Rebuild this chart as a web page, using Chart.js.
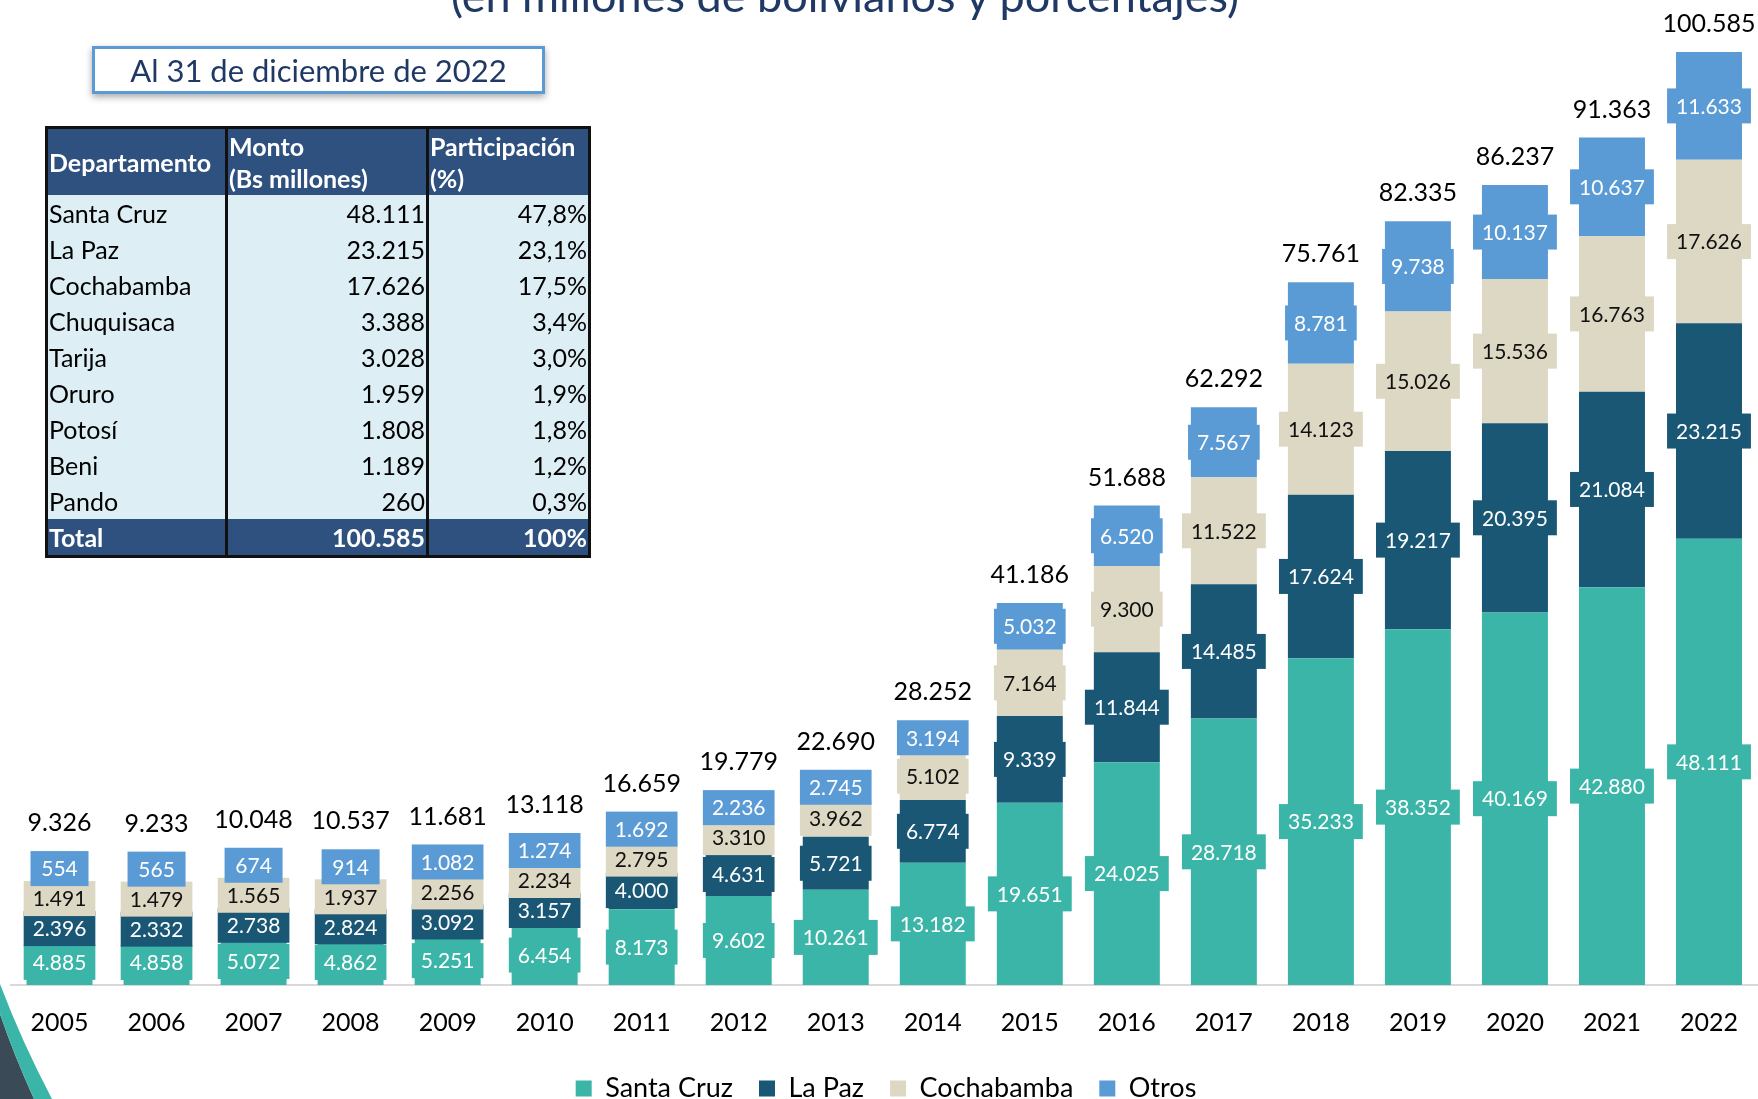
<!DOCTYPE html>
<html>
<head>
<meta charset="utf-8">
<script src="https://cdn.jsdelivr.net/npm/chart.js@4.4.1/dist/chart.umd.min.js"></script>
<style>
    html, body { margin: 0; padding: 0; background: #fff; overflow: hidden; }
    #wrap { position: relative; width: 1758px; height: 1099px; overflow: hidden; font-family: Lato, sans-serif; }
    #box { position: absolute; left: 0; top: 0; width: 1761px; height: 1112px; }
    #title { position: absolute; left: 345px; width: 1000px; top: -27px; text-align: center; font-size: 45px; line-height: 1; color: #1f3864; white-space: nowrap; }
    #fecha { position: absolute; left: 92px; top: 46px; width: 447px; height: 42px; border: 3px solid #5b9bd5; box-shadow: 0 3px 7px rgba(0,0,0,0.35); background: #fff; color: #1f3864; font-size: 31px; line-height: 42px; text-align: center; }
    #tabla { position: absolute; left: 45px; top: 126px; border-collapse: collapse; border: 3px solid #111; }
    #tabla td { padding: 0 1px; font-size: 25px; color: #000; background: #ddeef4; height: 36px; line-height: 36px; white-space: nowrap; border-left: 3px solid #111; border-right: 3px solid #111; }
    #tabla tr.h td { background: #2e5180; color: #fff; font-weight: bold; font-size: 25px; height: 66px; line-height: 32px; vertical-align: middle; }
    #tabla tr.t td { background: #2e5180; color: #fff; font-weight: bold; }
    #tabla td.n { text-align: right; }
    #deco { position: absolute; left: 0; top: 0; }
</style>
</head>
<body>
<div id="wrap">
    <div id="box"><canvas id="chart"></canvas></div>
    <div id="title">(en millones de bolivianos y porcentajes)</div>
    <div id="fecha">Al 31 de diciembre de 2022</div>
    <table id="tabla"></table>
    <svg id="deco" width="60" height="1099">
        <path d="M0,1014 Q14,1055 34,1099 L0,1099 Z" fill="#3a4a57"/>
        <path d="M0,984 Q22,1042 52,1099 L34,1099 Q14,1055 0,1014 Z" fill="#3bb5a8"/>
    </svg>
</div>
<script>
var years = ["2005", "2006", "2007", "2008", "2009", "2010", "2011", "2012", "2013",
    "2014", "2015", "2016", "2017", "2018", "2019", "2020", "2021", "2022"];
var santaCruz = [4885, 4858, 5072, 4862, 5251, 6454, 8173, 9602, 10261, 13182, 19651, 24025, 28718, 35233, 38352, 40169, 42880, 48111];
var laPaz = [2396, 2332, 2738, 2824, 3092, 3157, 4000, 4631, 5721, 6774, 9339, 11844, 14485, 17624, 19217, 20395, 21084, 23215];
var cochabamba = [1491, 1479, 1565, 1937, 2256, 2234, 2795, 3310, 3962, 5102, 7164, 9300, 11522, 14123, 15026, 15536, 16763, 17626];
var otros = [554, 565, 674, 914, 1082, 1274, 1692, 2236, 2745, 3194, 5032, 6520, 7567, 8781, 9738, 10137, 10637, 11633];
var totales = [9326, 9233, 10048, 10537, 11681, 13118, 16659, 19779, 22690, 28252, 41186, 51688, 62292, 75761, 82335, 86237, 91363, 100585];

// tabla 2022
var deptos = ["Santa Cruz", "La Paz", "Cochabamba", "Chuquisaca", "Tarija", "Oruro", "Potosí", "Beni", "Pando"];
var montos = ["48.111", "23.215", "17.626", "3.388", "3.028", "1.959", "1.808", "1.189", "260"];
var partic = ["47,8%", "23,1%", "17,5%", "3,4%", "3,0%", "1,9%", "1,8%", "1,2%", "0,3%"];

var tabla = document.getElementById("tabla");
var html = '<colgroup><col style="width:180px"><col style="width:201px"><col style="width:162px"></colgroup>';
html += '<tr class="h"><td>Departamento</td><td>Monto<br>(Bs millones)</td><td>Participación<br>(%)</td></tr>';
for (var i = 0; i < deptos.length; i++) {
    html += '<tr><td>' + deptos[i] + '</td><td class="n">' + montos[i] + '</td><td class="n">' + partic[i] + '</td></tr>';
}
html += '<tr class="t"><td>Total</td><td class="n">100.585</td><td class="n">100%</td></tr>';
tabla.innerHTML = html;

function fmt(v) {
    return String(v).replace(/\B(?=(\d{3})+(?!\d))/g, ".");
}

var colores = ["#3bb5a8", "#195775", "#ddd8c4", "#5b9bd5"];
var textColores = ["#fff", "#fff", "#111", "#fff"];
var BOX_H = 35, GAP = 30;

// etiquetas con fondo, apiladas hacia arriba si no caben
var boxLabels = {
    id: "boxLabels",
    afterDatasetsDraw: function (chart) {
        var ctx = chart.ctx;
        var base = chart.scales.y.getPixelForValue(0);
        ctx.save();
        ctx.textAlign = "center";
        ctx.textBaseline = "middle";
        for (var i = 0; i < chart.data.labels.length; i++) {
            var limit = base - BOX_H / 2;
            var topEdge = Infinity;
            var x = 0;
            ctx.font = "21px Lato";
            chart.data.datasets.forEach(function (ds, d) {
                var bar = chart.getDatasetMeta(d).data[i];
                x = bar.x;
                var y = Math.min((bar.y + bar.base) / 2, limit);
                limit = y - GAP;
                var txt = fmt(ds.data[i]);
                var w = Math.max(ctx.measureText(txt).width + 18, 58);
                ctx.fillStyle = ds.backgroundColor;
                ctx.fillRect(x - w / 2, y - BOX_H / 2, w, BOX_H);
                ctx.fillStyle = textColores[d];
                ctx.fillText(txt, x, y + 1);
                topEdge = Math.min(topEdge, y - BOX_H / 2, bar.y);
            });
            ctx.font = "25px Lato";
            ctx.fillStyle = "#000";
            ctx.fillText(fmt(totales[i]), x, topEdge - 28);
        }
        ctx.restore();
    }
};

function draw() {
    new Chart(document.getElementById("chart"), {
        type: "bar",
        data: {
            labels: years,
            datasets: [
                { label: "Santa Cruz", data: santaCruz, backgroundColor: colores[0] },
                { label: "La Paz", data: laPaz, backgroundColor: colores[1] },
                { label: "Cochabamba", data: cochabamba, backgroundColor: colores[2] },
                { label: "Otros", data: otros, backgroundColor: colores[3] }
            ]
        },
        options: {
            responsive: true,
            maintainAspectRatio: false,
            animation: false,
            layout: { padding: { top: 11, left: 11, right: 0, bottom: 0 } },
            datasets: { bar: { categoryPercentage: 1, barPercentage: 0.68 } },
            scales: {
                x: {
                    stacked: true,
                    grid: { color: "transparent", drawTicks: false },
                    border: { display: true, color: "#d9d9d9", width: 2 },
                    ticks: { color: "#000", font: { family: "Lato", size: 25 }, padding: 23 },
                    afterFit: function (scale) { scale.height -= 12; }
                },
                y: {
                    stacked: true,
                    display: false,
                    min: 0,
                    max: 105000
                }
            },
            plugins: {
                legend: {
                    position: "bottom",
                    labels: {
                        boxWidth: 16,
                        boxHeight: 16,
                        padding: 26,
                        color: "#000",
                        font: { family: "Lato", size: 27 }
                    }
                },
                tooltip: { enabled: false }
            }
        },
        plugins: [boxLabels]
    });
}

Promise.all([
    document.fonts.load("25px Lato"),
    document.fonts.load("bold 22px Lato")
]).then(draw, draw);
</script>
</body>
</html>
